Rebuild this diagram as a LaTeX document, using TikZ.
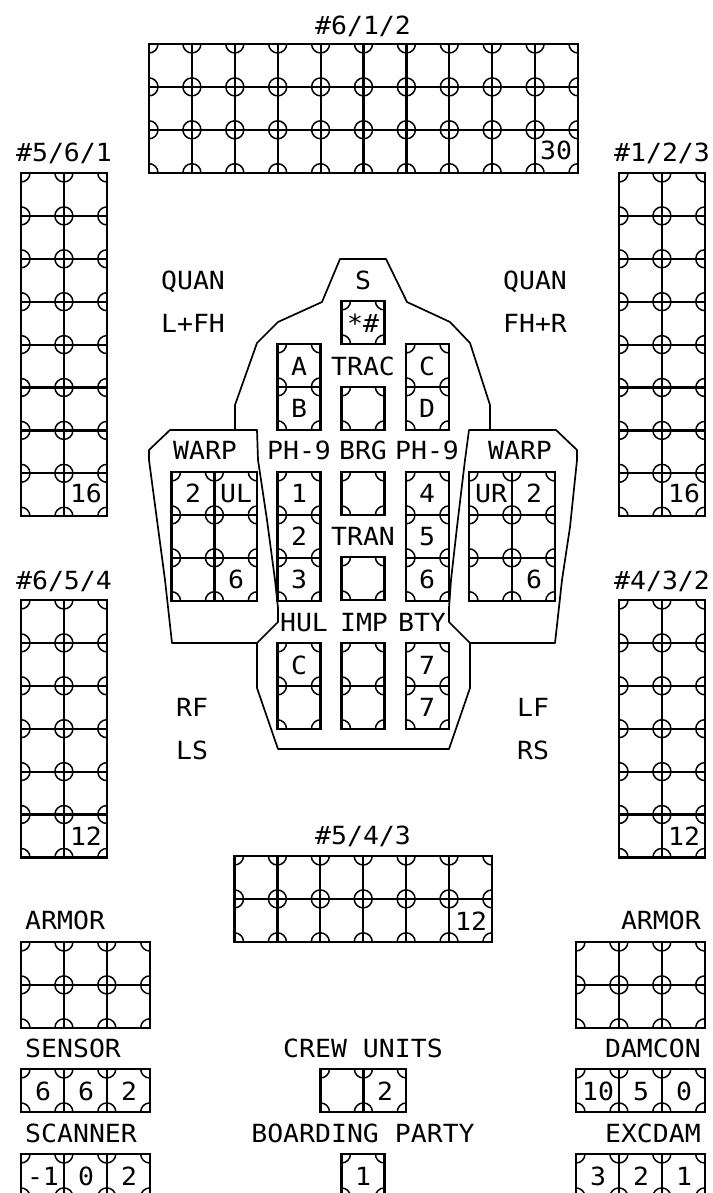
\documentclass[tikz,border=0pt]{standalone}
\usepackage{fontspec}
\usepackage{tikz}
\newfontfamily\panelfont[FakeStretch=1.06]{DejaVu Sans Mono}
\tikzset{
  hullline/.style={line width=1.7pt, line join=round},
  gridline/.style={line width=2.2pt},
  cornerline/.style={line width=1.5pt},
  lbl/.style={inner sep=0pt, text height=18pt, text depth=0pt, font=\panelfont\fontsize{25}{25}\selectfont}
}
% x, y, columns, rows
\newcommand{\cellgrid}[4]{
  \begin{scope}[shift={(#1,#2)}]
    \begin{scope}
      \clip (0,0) rectangle ({#3*42.9},{#4*42.9});
      \foreach \cx in {0,...,#3}
        \foreach \cy in {0,...,#4}
          \draw[cornerline] ({\cx*42.9},{\cy*42.9}) circle (9pt);
    \end{scope}
    \foreach \cx in {1,...,#3}
      \foreach \cy in {1,...,#4}
        \draw[gridline] ({(\cx-1)*42.9},{(\cy-1)*42.9}) rectangle ({\cx*42.9},{\cy*42.9});
  \end{scope}
}
\begin{document}
\begin{tikzpicture}[x=1pt, y=-1pt]
        \useasboundingbox (0,0) rectangle (712,1193);
        \clip (0,0) rectangle (712,1193);

        % Shield grids
        \cellgrid{149}{44}{10}{3}
        \cellgrid{21}{173}{2}{8}
        \cellgrid{619}{173}{2}{8}
        \cellgrid{21}{600}{2}{6}
        \cellgrid{619}{600}{2}{6}
        \cellgrid{234.5}{856}{6}{2}

        % Systems at the bottom
        \cellgrid{21}{942}{3}{2}
        \cellgrid{576}{942}{3}{2}
        \cellgrid{21}{1069}{3}{1}
        \cellgrid{21}{1154}{3}{1}
        \cellgrid{320.5}{1069}{2}{1}
        \cellgrid{341.5}{1154}{1}{1}
        \cellgrid{576}{1069}{3}{1}
        \cellgrid{576}{1154}{3}{1}

        % Systems inside the hull
        \cellgrid{341.5}{301}{1}{1}
        \cellgrid{277.5}{344}{1}{2}
        \cellgrid{341.5}{387}{1}{1}
        \cellgrid{406}{344}{1}{2}
        \cellgrid{171.5}{472}{2}{3}
        \cellgrid{277.5}{472}{1}{3}
        \cellgrid{341.5}{472}{1}{1}
        \cellgrid{341.5}{557}{1}{1}
        \cellgrid{406}{472}{1}{3}
        \cellgrid{469}{472}{2}{3}
        \cellgrid{277.5}{643}{1}{2}
        \cellgrid{341.5}{643}{1}{2}
        \cellgrid{406}{643}{1}{2}

        % Hull outline
        \draw[hullline] (235,430) -- (235,405) -- (257,343) -- (278,322) -- (322,302)
                  -- (340,259) -- (386,259) -- (407,302) -- (450,322) -- (470,343)
                  -- (490,405) -- (490,430);
        \draw[hullline] (170,430) -- (257,430) -- (258,460) -- (267,520) -- (275,580)
                  -- (278,608) -- (278,622) -- (257,643) -- (172,643) -- (168,607)
                  -- (165,580) -- (157,520) -- (149,460) -- (149,450) -- cycle;
        \draw[hullline] (556,430) -- (469,430) -- (465,460) -- (457,527) -- (451,580)
                  -- (449,608) -- (449,622) -- (470,643) -- (555,643) -- (559,607)
                  -- (562,580) -- (570,527) -- (577,460) -- (577,450) -- cycle;
        \draw[hullline] (257,643) -- (257,688) -- (278,749) -- (449,749) -- (470,688) -- (470,643);

        % Shield labels
        \node[lbl] (top shield) at (363,26) {\#6/1/2};
        \node[lbl] (left fwd shield) at (64,153) {\#5/6/1};
        \node[lbl] (right fwd shield) at (662,153) {\#1/2/3};
        \node[lbl] (left aft shield) at (64,580) {\#6/5/4};
        \node[lbl] (right aft shield) at (662,580) {\#4/3/2};
        \node[lbl] (aft shield) at (363,835) {\#5/4/3};

        % Shield values
        \node[lbl] (val top) at (556,151) {30};
        \node[lbl] (val lf) at (86,493) {16};
        \node[lbl] (val rf) at (684,493) {16};
        \node[lbl] (val la) at (86,836) {12};
        \node[lbl] (val ra) at (684,836) {12};
        \node[lbl] (val aft) at (471,921) {12};

        % Arc labels
        \node[lbl] (quan l) at (193,280) {QUAN};
        \node[lbl] (arc l) at (193,323) {L+FH};
        \node[lbl] (quan r) at (535,280) {QUAN};
        \node[lbl] (arc r) at (535,323) {FH+R};
        \node[lbl] (arc rf) at (192,707) {RF};
        \node[lbl] (arc ls) at (192,750) {LS};
        \node[lbl] (arc lf) at (533,707) {LF};
        \node[lbl] (arc rs) at (533,750) {RS};

        % Hull contents
        \node[lbl] (sname) at (363,280) {S};
        \node[lbl] (scell) at (363,323) {*\#};
        \node[lbl] (trac) at (363,366) {TRAC};
        \node[lbl] (ca) at (299,366) {A};
        \node[lbl] (cb) at (299,408) {B};
        \node[lbl] (cc) at (427,366) {C};
        \node[lbl] (cd) at (427,408) {D};
        \node[lbl] (warp l) at (205,450) {WARP};
        \node[lbl] (phl) at (299,450) {PH-9};
        \node[lbl] (brg) at (363,450) {BRG};
        \node[lbl] (phr) at (427,450) {PH-9};
        \node[lbl] (warp r) at (520,450) {WARP};
        \node[lbl] (wl two) at (193,493) {2};
        \node[lbl] (wl ul) at (236,493) {UL};
        \node[lbl] (wl six) at (236,579) {6};
        \node[lbl] (wr ur) at (491,493) {UR};
        \node[lbl] (wr two) at (534,493) {2};
        \node[lbl] (wr six) at (534,579) {6};
        \node[lbl] (ph one) at (299,493) {1};
        \node[lbl] (ph two) at (299,536) {2};
        \node[lbl] (ph three) at (299,579) {3};
        \node[lbl] (ph four) at (427,493) {4};
        \node[lbl] (ph five) at (427,536) {5};
        \node[lbl] (ph six) at (427,579) {6};
        \node[lbl] (tran) at (363,536) {TRAN};
        \node[lbl] (hul) at (304,622) {HUL};
        \node[lbl] (imp) at (364,622) {IMP};
        \node[lbl] (bty) at (422,622) {BTY};
        \node[lbl] (hul c) at (299,665) {C};
        \node[lbl] (bty a) at (427,665) {7};
        \node[lbl] (bty b) at (427,707) {7};

        % Bottom labels
        \node[lbl, anchor=west] (armor l) at (25,920) {ARMOR};
        \node[lbl, anchor=east] (armor r) at (701,920) {ARMOR};
        \node[lbl, anchor=west] (sensor) at (25,1048) {SENSOR};
        \node[lbl, anchor=west] (scanner) at (25,1133) {SCANNER};
        \node[lbl] (crew) at (363,1048) {CREW UNITS};
        \node[lbl] (board) at (363,1133) {BOARDING PARTY};
        \node[lbl, anchor=east] (damcon) at (701,1048) {DAMCON};
        \node[lbl, anchor=east] (excdam) at (701,1133) {EXCDAM};

        % Bottom values
        \node[lbl] (sen a) at (43,1091) {6};
        \node[lbl] (sen b) at (86,1091) {6};
        \node[lbl] (sen c) at (129,1091) {2};
        \node[lbl] (scn a) at (43,1176) {-1};
        \node[lbl] (scn b) at (86,1176) {0};
        \node[lbl] (scn c) at (129,1176) {2};
        \node[lbl] (crew val) at (385,1091) {2};
        \node[lbl] (board val) at (363,1176) {1};
        \node[lbl] (dam a) at (598,1091) {10};
        \node[lbl] (dam b) at (641,1091) {5};
        \node[lbl] (dam c) at (684,1091) {0};
        \node[lbl] (exc a) at (598,1176) {3};
        \node[lbl] (exc b) at (641,1176) {2};
        \node[lbl] (exc c) at (684,1176) {1};
\end{tikzpicture}
\end{document}
